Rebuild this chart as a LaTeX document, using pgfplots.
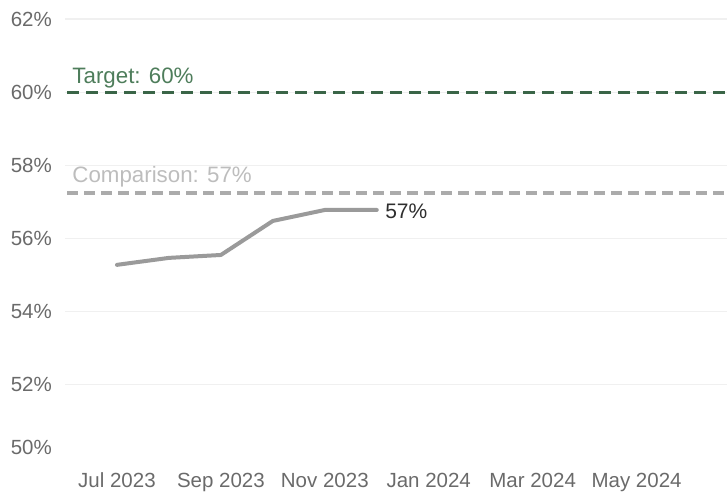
\documentclass[border=0pt]{standalone}
\usepackage{pgfplots}
\pgfplotsset{compat=1.18}
\usepackage{fontspec}
\setmainfont{Liberation Sans}
\definecolor{tickgray}{HTML}{6A6A6A}
\definecolor{gridgray}{HTML}{F0F0F0}
\definecolor{targetgreen}{HTML}{3A6547}
\definecolor{targettext}{HTML}{4E7D5B}
\definecolor{compline}{HTML}{ABABAB}
\definecolor{comptext}{HTML}{BDBDBD}
\definecolor{linegray}{HTML}{9A9A9A}
\definecolor{valtext}{HTML}{2E2E2E}
\begin{document}
\begin{tikzpicture}
\useasboundingbox (0,0) rectangle (727pt,493pt);
\begin{axis}[
  at={(65pt,35pt)}, anchor=south west,
  scale only axis, width=662pt, height=439pt,
  xmin=-1, xmax=11.74, ymin=50, ymax=62,
  axis line style={draw=none},
  tick style={draw=none},
  clip=false,
  xtick={0,2,4,6,8,10},
  xticklabels={Jul 2023,Sep 2023,Nov 2023,Jan 2024,Mar 2024,May 2024},
  xticklabel style={anchor=base, yshift=-29pt, font=\fontsize{20.5}{24}\selectfont, text=tickgray},
  ytick={52,54,...,62},
  yticklabels={52\%,54\%,56\%,58\%,60\%,62\%},
  yticklabel style={anchor=east, inner sep=0pt, xshift=-13pt, font=\fontsize{20.5}{24}\selectfont, text=tickgray},
  extra y ticks={50},
  extra y tick labels={50\%},
  extra y tick style={grid=none, yticklabel style={yshift=11pt}},
  ymajorgrids,
  grid style={draw=gridgray, line width=1.2pt},
]
\addplot[targetgreen, line width=2.8pt, dash pattern=on 12pt off 7pt] coordinates {(-0.96,60) (11.74,60)};
\addplot[compline, line width=3.5pt, dash pattern=on 11pt off 6pt] coordinates {(-0.96,57.25) (11.74,57.25)};
\addplot[linegray, line width=4pt, line join=round, line cap=round] coordinates {
  (0,55.28) (1,55.47) (2,55.55) (3,56.48) (4,56.78) (5,56.78)
};
\node[anchor=base west, inner sep=0pt, text=targettext, font=\fontsize{22.3}{24}\selectfont] at (axis cs:-0.86,60.25) {Target: 60\%};
\node[anchor=base west, inner sep=0pt, text=comptext, font=\fontsize{22.3}{24}\selectfont] at (axis cs:-0.86,57.52) {Comparison: 57\%};
\node[anchor=base west, inner sep=0pt, text=valtext, font=\fontsize{21}{24}\selectfont] at (axis cs:5.16,56.56) {57\%};
\end{axis}
\end{tikzpicture}
\end{document}
